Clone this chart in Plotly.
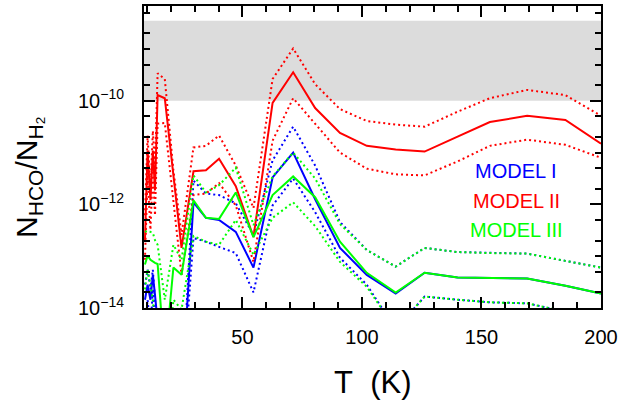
import plotly.graph_objects as go

# Temperature grid (K)
T = [9.2, 10.3, 11.5, 12.5, 13.4, 14.5, 17.5, 21.1, 24.5, 29.5, 34.7, 40.2, 47.2,
     54.6, 62.6, 71.2, 80.4, 90.8, 102.0, 114.1, 126.2, 140.0, 153.5, 169.1, 185.1, 200.0]

# log10(N_HCO/N_H2)
m1_mid = [-13.84, -13.55, -13.84, -13.36, -13.74, -14.41, -15.75, -15.75, -15.75, -11.96, -12.26, -12.30, -12.53,
          -13.22, -11.48, -11.00, -11.90, -12.84, -13.36, -13.72, -13.32, -13.41, -13.42, -13.43, -13.57, -13.72]
m1_up = [-13.55, -13.26, -13.64, -13.26, -13.84, -14.41, -15.75, -15.75, -15.75, -11.54, -11.79, -11.82, -11.98,
         -12.59, -11.15, -10.50, -11.25, -12.34, -12.88, -13.20, -12.84, -12.92, -12.94, -12.95, -13.09, -13.22]
m1_lo = [-14.41, -13.84, -14.41, -13.64, -14.41, -15.75, -15.75, -15.75, -15.75, -12.65, -12.72, -12.82, -12.94,
         -13.70, -12.02, -11.50, -12.15, -13.03, -13.55, -14.41, -13.78, -13.84, -13.89, -13.91, -14.07, -14.22]

m2_mid = [-12.69, -10.96, -11.92, -10.96, -11.73, -9.89, -9.95, -11.42, -12.84, -11.36, -11.34, -11.12, -11.65,
          -12.63, -10.04, -9.45, -10.14, -10.62, -10.87, -10.94, -10.98, -10.69, -10.41, -10.29, -10.37, -10.83]
m2_up = [-12.21, -10.67, -11.73, -10.58, -11.34, -9.47, -9.58, -11.34, -12.59, -10.90, -10.87, -10.67, -11.25,
         -12.07, -9.58, -8.99, -9.68, -10.16, -10.39, -10.46, -10.50, -10.21, -9.95, -9.79, -9.89, -10.29]
m2_lo = [-13.07, -11.44, -12.49, -11.34, -12.21, -10.44, -10.43, -11.92, -13.36, -11.82, -11.79, -11.59, -12.02,
         -13.11, -10.77, -9.95, -10.44, -11.00, -11.31, -11.42, -11.44, -11.17, -10.87, -10.75, -10.85, -11.10]

m3_mid = [-13.16, -12.99, -13.07, -13.11, -13.13, -13.15, -15.00, -13.22, -13.36, -11.92, -12.26, -12.28, -11.77,
          -12.63, -11.82, -11.46, -11.86, -12.72, -13.32, -13.70, -13.32, -13.41, -13.42, -13.43, -13.57, -13.72]
m3_up = [-12.53, -12.51, -12.53, -12.55, -12.69, -12.78, -13.84, -12.78, -13.07, -11.44, -11.77, -11.63, -11.29,
         -12.40, -11.46, -11.00, -11.50, -12.38, -12.88, -13.20, -12.84, -12.92, -12.94, -12.95, -13.09, -13.22]
m3_lo = [-13.64, -13.26, -13.55, -13.84, -14.41, -14.79, -15.75, -13.84, -14.03, -12.61, -12.72, -12.78, -12.30,
         -12.97, -12.26, -11.96, -12.42, -13.11, -13.59, -14.41, -13.78, -13.84, -13.89, -13.91, -14.07, -14.22]

band = [1e-10, 3.5e-9]
labels = ["MODEL I", "MODEL II", "MODEL III"]
colors = ["#0000ff", "#ff0000", "#00ff00"]

x_major = [50, 100, 150, 200]
y_major = [1e-14, 1e-12, 1e-10]
y_major_text = ["10<sup>−14</sup>", "10<sup>−12</sup>", "10<sup>−10</sup>"]
y_minor = [m * 10.0 ** e for e in range(-14, -8) for m in (1, 2, 5) if not (m == 1 and e % 2 == 0)]

FONT = "Liberation Sans, Arial, sans-serif"

fig = go.Figure()

def lin(v):
    return [10.0 ** a for a in v]

models = [(m1_up, m1_mid, m1_lo), (m2_up, m2_mid, m2_lo), (m3_up, m3_mid, m3_lo)]
for (up, mid, lo), col in zip(models, colors):
    for arr, dash in ((up, "2px,3px"), (lo, "2px,3px"), (mid, "solid")):
        fig.add_trace(go.Scatter(x=T, y=lin(arr), mode="lines",
                                 line=dict(color=col, width=2, dash=dash),
                                 showlegend=False, hoverinfo="skip"))

fig.add_shape(type="rect", xref="paper", x0=0, x1=1, yref="y", y0=band[0], y1=band[1],
              fillcolor="#dcdcdc", line_width=0, layer="below")

for i, (lab, col) in enumerate(zip(labels, colors)):
    fig.add_annotation(text=lab, xref="paper", yref="paper", x=0.815, y=0.453 - i * 0.0975,
                       showarrow=False, font=dict(family=FONT, size=20, color=col),
                       xanchor="center", yanchor="middle")

fig.add_annotation(text="T\u00a0\u00a0(K)", xref="paper", yref="paper", x=0.5, y=-0.247,
                   showarrow=False, font=dict(family=FONT, size=31, color="black"),
                   xanchor="center", yanchor="middle")
fig.add_annotation(text="N<sub>HCO</sub>/N<sub>H₂</sub>", xref="paper", yref="paper",
                   x=-0.2516, y=0.434, textangle=-90, showarrow=False,
                   font=dict(family=FONT, size=30, color="black"),
                   xanchor="center", yanchor="middle")

fig.update_xaxes(range=[8.8, 200], showline=True, linecolor="black", linewidth=2, mirror="allticks",
                 ticks="inside", ticklen=11, tickwidth=1.5, tickcolor="black",
                 tickmode="array", tickvals=x_major, ticktext=[str(v) for v in x_major],
                 minor=dict(ticks="inside", ticklen=6, tickwidth=1.5, tickcolor="black",
                            tickmode="linear", tick0=0, dtick=10),
                 showgrid=False, zeroline=False, tickfont=dict(family=FONT, size=20, color="black"),
                 ticklabelstandoff=10)
fig.update_yaxes(type="log", range=[-14, -8.17], showline=True, linecolor="black", linewidth=2,
                 mirror="allticks", ticks="inside", ticklen=11, tickwidth=1.5, tickcolor="black",
                 tickmode="array", tickvals=y_major, ticktext=y_major_text,
                 minor=dict(ticks="inside", ticklen=6, tickwidth=1.5, tickcolor="black",
                            tickmode="array", tickvals=y_minor),
                 showgrid=False, zeroline=False, tickfont=dict(family=FONT, size=20, color="black"),
                 ticklabelstandoff=14)

fig.update_layout(width=637, height=403, margin=dict(l=144, r=36, t=4, b=95),
                  plot_bgcolor="white", paper_bgcolor="white", showlegend=False)

fig.write_html("out.html", config={"displayModeBar": False},
               post_script="document.body.style.margin='0';")
